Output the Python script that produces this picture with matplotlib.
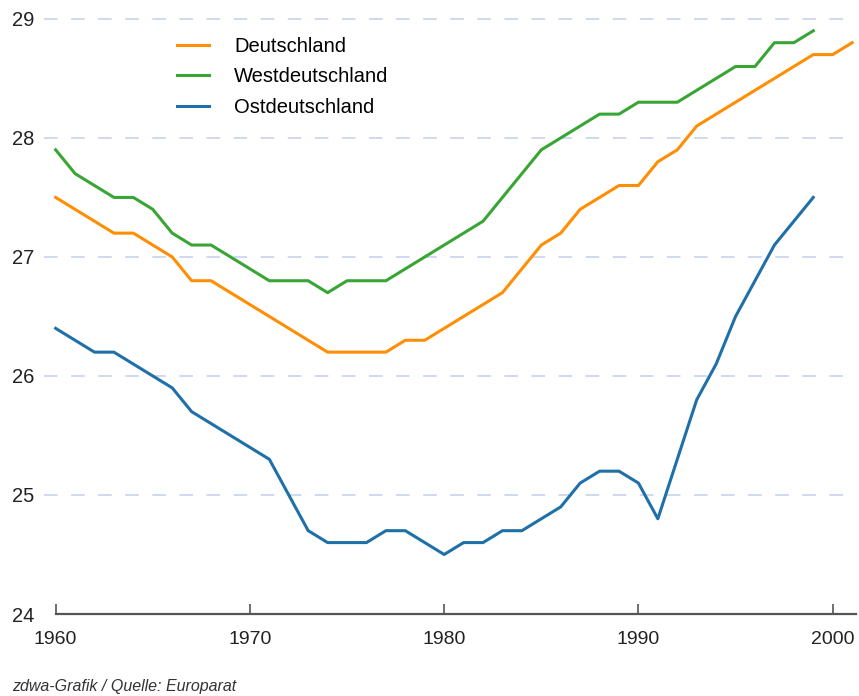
import numpy as np
import matplotlib
matplotlib.use('Agg')
import matplotlib.pyplot as plt

plt.rcParams['font.family'] = ['Liberation Sans', 'DejaVu Sans']

# data -------------------------------------------------------------
years_de = list(range(1960, 2002))
deutschland = [27.5, 27.4, 27.3, 27.2, 27.2, 27.1, 27.0, 26.8, 26.8, 26.7,
               26.6, 26.5, 26.4, 26.3, 26.2, 26.2, 26.2, 26.2, 26.3, 26.3,
               26.4, 26.5, 26.6, 26.7, 26.9, 27.1, 27.2, 27.4, 27.5, 27.6,
               27.6, 27.8, 27.9, 28.1, 28.2, 28.3, 28.4, 28.5, 28.6, 28.7,
               28.7, 28.8]

years_wo = list(range(1960, 2000))
west = [27.9, 27.7, 27.6, 27.5, 27.5, 27.4, 27.2, 27.1, 27.1, 27.0,
        26.9, 26.8, 26.8, 26.8, 26.7, 26.8, 26.8, 26.8, 26.9, 27.0,
        27.1, 27.2, 27.3, 27.5, 27.7, 27.9, 28.0, 28.1, 28.2, 28.2,
        28.3, 28.3, 28.3, 28.4, 28.5, 28.6, 28.6, 28.8, 28.8, 28.9]
ost = [26.4, 26.3, 26.2, 26.2, 26.1, 26.0, 25.9, 25.7, 25.6, 25.5,
       25.4, 25.3, 25.0, 24.7, 24.6, 24.6, 24.6, 24.7, 24.7, 24.6,
       24.5, 24.6, 24.6, 24.7, 24.7, 24.8, 24.9, 25.1, 25.2, 25.2,
       25.1, 24.8, 25.3, 25.8, 26.1, 26.5, 26.8, 27.1, 27.3, 27.5]

labels = ['Deutschland', 'Westdeutschland', 'Ostdeutschland']
colors = ['#ff8e05', '#38a535', '#1f70a8']
y_ticks = [24, 25, 26, 27, 28, 29]
x_ticks = [1960, 1970, 1980, 1990, 2000]

# plot -------------------------------------------------------------
W, H = 859, 696
fig = plt.figure(figsize=(W / 100, H / 100), dpi=100)
ax = fig.add_axes([44 / W, (H - 614) / H, (856 - 44) / W, (614 - 7) / H])

ax.plot(years_de, deutschland, color=colors[0], lw=2.2, label=labels[0])
ax.plot(years_wo, west, color=colors[1], lw=2.2, label=labels[1])
ax.plot(years_wo, ost, color=colors[2], lw=2.2, label=labels[2])

ax.set_xlim(1959.4, 2001.2)
ax.set_ylim(24, 29.1)

for y in y_ticks[1:]:
    ax.axhline(y, color='#ccd5ee', lw=1.3, ls=(0, (7.5, 7.5)), zorder=0)

for s in ['top', 'right', 'left']:
    ax.spines[s].set_visible(False)
ax.spines['bottom'].set_bounds(1960, 2001.2)
ax.spines['bottom'].set_color('#555555')
ax.spines['bottom'].set_linewidth(1.6)

ax.set_xticks(x_ticks)
ax.set_yticks(y_ticks)
ax.tick_params(axis='x', direction='in', length=7, width=1.2, color='#555555',
               pad=12, labelsize=14, labelcolor='#222222')
ax.tick_params(axis='y', length=0, pad=7, labelsize=14.5, labelcolor='#222222')

ax.legend(loc='upper left', bbox_to_anchor=((177 - 44) / 812, (614 - 37) / 607),
          frameon=False, borderpad=0, borderaxespad=0,
          fontsize=14.5, handlelength=1.6, handletextpad=1.25, labelspacing=0.57)

fig.text(12 / W, 1 - 687 / H, 'zdwa-Grafik / Quelle: Europarat', fontsize=11.5,
         style='italic', color='#333333', va='center')

fig.savefig('out.png', dpi=100)
